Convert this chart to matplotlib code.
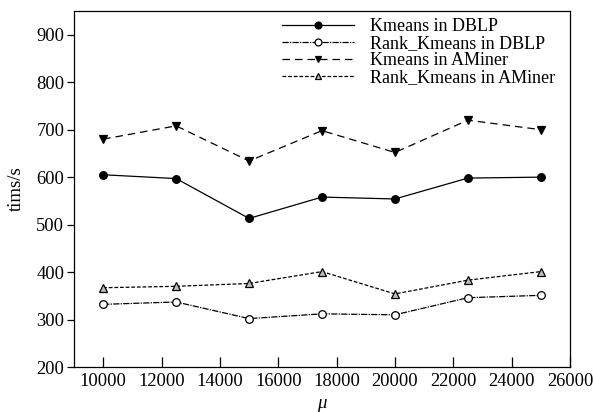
"""Runtime of Kmeans vs Rank_Kmeans on DBLP and AMiner."""

import matplotlib
matplotlib.use("Agg")
import matplotlib.pyplot as plt

mu = [10000, 12500, 15000, 17500, 20000, 22500, 25000]
kmeans_dblp = [605, 597, 513, 558, 554, 598, 600]
rank_dblp = [332, 337, 302, 312, 310, 346, 351]
kmeans_aminer = [680, 708, 634, 698, 652, 720, 700]
rank_aminer = [367, 370, 376, 401, 354, 383, 401]

x_ticks = list(range(10000, 26001, 2000))
y_ticks = list(range(200, 901, 100))

plt.rcParams["font.family"] = ["Liberation Serif", "DejaVu Serif"]

fig = plt.figure(figsize=(5.93, 4.12), dpi=100)
ax = fig.add_axes([0.1248, 0.1092, 0.8364, 0.8641])

# one entry per series: values, label, line style, marker, face colour
series = [
    (kmeans_dblp, "Kmeans in DBLP", "-", "o", "black"),
    (rank_dblp, "Rank_Kmeans in DBLP", (0, (5, 1, 1, 1)), "o", "white"),
    (kmeans_aminer, "Kmeans in AMiner", (0, (6, 4)), "v", "black"),
    (rank_aminer, "Rank_Kmeans in AMiner", (0, (3, 1.5)), "^", "#bdbdbd"),
]
for vals, label, ls, mk, fc in series:
    ax.plot(mu, vals, color="black", linestyle=ls, linewidth=0.9,
            marker=mk, markersize=5.5, markerfacecolor=fc,
            markeredgecolor="black", markeredgewidth=0.9, label=label)

ax.set_xlim(9000, 26000)
ax.set_ylim(200, 950)
ax.set_xticks(x_ticks)
ax.set_yticks(y_ticks)
ax.tick_params(axis="x", direction="in", length=7, width=0.9,
               labelsize=13.3, pad=4, colors="black")
ax.tick_params(axis="y", direction="out", length=5, width=0.9,
               labelsize=13.3, pad=2)
for sp in ax.spines.values():
    sp.set_linewidth(0.9)

ax.set_xlabel("\u03bc", fontsize=13.5, fontstyle="italic", labelpad=4)
ax.set_ylabel("tims/s", fontsize=13.5, labelpad=8)

ax.legend(loc="upper right", frameon=False, fontsize=13,
          handlelength=4.0, handletextpad=0.9, labelspacing=0.0,
          borderaxespad=0.0, bbox_to_anchor=(0.985, 1.0), markerscale=0.9)

fig.savefig("out.png", dpi=100)
